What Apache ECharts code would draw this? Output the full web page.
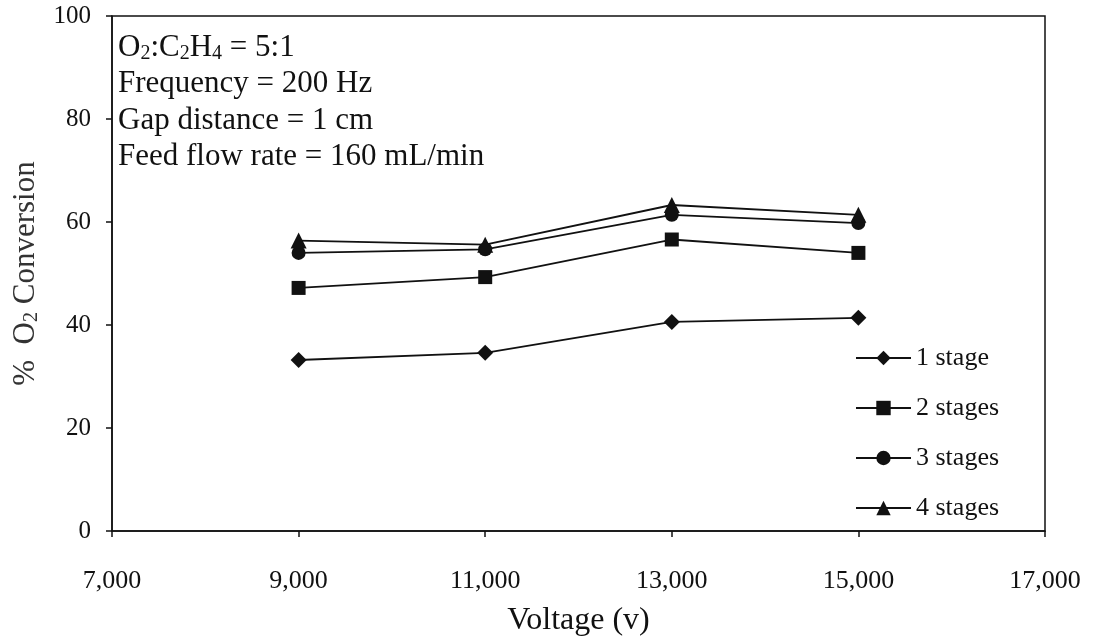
<!DOCTYPE html>
<html>
<head>
<meta charset="utf-8">
<script src="https://cdn.jsdelivr.net/npm/echarts@6/dist/echarts.min.js"></script>
<style>
  html, body { margin: 0; padding: 0; background: #fff; }
  #chart { width: 1093px; height: 637px; }
</style>
</head>
<body>
<div id="chart"></div>
<script>
// 数据
var voltages = [9000, 11000, 13000, 15000];
var stage1 = [33.2, 34.6, 40.6, 41.4];
var stage2 = [47.2, 49.3, 56.6, 54.0];
var stage3 = [54.0, 54.7, 61.4, 59.8];
var stage4 = [56.4, 55.6, 63.3, 61.4];
var seriesNames = ['1 stage', '2 stages', '3 stages', '4 stages'];
var xTicks = [7000, 17000, 2000];
var yTicks = [0, 100, 20];

var FONT = '"Liberation Serif", "DejaVu Serif", serif';

function pairs(ys) {
  return voltages.map(function (v, i) { return [v, ys[i]]; });
}

(function () {
  var myChart = echarts.init(document.getElementById('chart'));
  var symbols = ['diamond', 'rect', 'circle', 'triangle'];
  var sizes = [16, 14, 14, 16];
  var allData = [stage1, stage2, stage3, stage4];

  var option = {
    animation: false,
    backgroundColor: '#fff',
    grid: {
      left: 112, right: 48, top: 16, bottom: 106,
      containLabel: false, outerBoundsMode: 'none',
      show: true, borderColor: '#111', borderWidth: 1.5
    },
    legend: {
      orient: 'vertical',
      left: 855, top: 345, padding: 0,
      itemWidth: 55, itemHeight: 18, itemGap: 24,
      textStyle: { fontFamily: FONT, fontSize: 26, lineHeight: 26, color: '#111' },
      data: seriesNames
    },
    xAxis: {
      type: 'value',
      min: xTicks[0], max: xTicks[1], interval: xTicks[2],
      name: 'Voltage (v)',
      nameLocation: 'middle', nameGap: 74,
      nameTextStyle: { fontFamily: FONT, fontSize: 32, color: '#111' },
      axisLine: { lineStyle: { color: '#111', width: 1.5 } },
      axisTick: { lineStyle: { color: '#111', width: 1.5 }, length: 6 },
      axisLabel: {
        fontFamily: FONT, fontSize: 26, color: '#111', margin: 37,
        formatter: function (v) { return v.toLocaleString('en-US'); }
      },
      splitLine: { show: false }
    },
    yAxis: {
      type: 'value',
      min: yTicks[0], max: yTicks[1], interval: yTicks[2],
      name: '{a|%  O}{s|2}{a| Conversion}',
      nameLocation: 'middle', nameGap: 70, nameRotate: 90,
      nameTextStyle: {
        fontFamily: FONT, fontSize: 31, color: '#333',
        rich: {
          a: { fontFamily: FONT, fontSize: 31, color: '#333' },
          s: { fontFamily: FONT, fontSize: 20, color: '#333', padding: [12, 0, 0, 0] }
        }
      },
      axisLine: { show: true, lineStyle: { color: '#111', width: 1.5 } },
      axisTick: { show: true, lineStyle: { color: '#111', width: 1.5 }, length: 6 },
      axisLabel: { fontFamily: FONT, fontSize: 25, color: '#111', margin: 21, padding: [6, 0, 0, 0] },
      splitLine: { show: false }
    },
    graphic: [{
      type: 'text',
      left: 118, top: 31,
      style: {
        text: '{a|O}{s|2}{a|:C}{s|2}{a|H}{s|4}{a| = 5:1}\n{a|Frequency = 200 Hz}\n{a|Gap distance = 1 cm}\n{a|Feed flow rate = 160 mL/min}',
        fill: '#111',
        rich: {
          a: { fontFamily: FONT, fontSize: 31, lineHeight: 36.5, fill: '#111' },
          s: { fontFamily: FONT, fontSize: 20, lineHeight: 36.5, fill: '#111', padding: [13, 0, 0, 0] }
        }
      }
    }],
    series: allData.map(function (d, i) {
      return {
        name: seriesNames[i],
        type: 'line',
        data: pairs(d),
        symbol: symbols[i],
        symbolSize: sizes[i],
        lineStyle: { color: '#111', width: 1.8 },
        itemStyle: { color: '#111' }
      };
    })
  };

  myChart.setOption(option);
  window.addEventListener('resize', function () { myChart.resize(); });
})();
</script>
</body>
</html>
